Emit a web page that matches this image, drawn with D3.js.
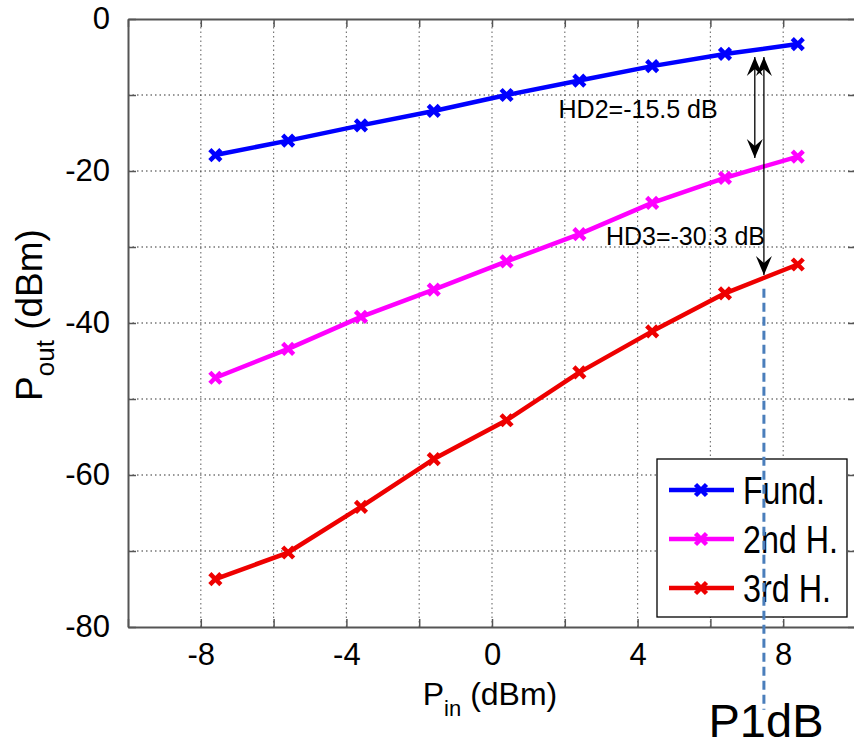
<!DOCTYPE html>
<html lang="en">
<head>
    <meta charset="UTF-8">
    <title>Pout vs Pin</title>
    <script src="https://d3js.org/d3.v7.min.js"></script>
    <style>
        body { margin: 0; background: #fff; }
        svg { display: block; font-family: "Liberation Sans", Arial, sans-serif; }
    </style>
</head>
<body>
    <div id="chart"></div>

    <script>
        // Données
        const pin = [-7.6, -5.6, -3.6, -1.6, 0.4, 2.4, 4.4, 6.4, 8.4];
        const fund = [-17.9, -16.0, -14.0, -12.1, -10.0, -8.1, -6.2, -4.6, -3.3];
        const h2 = [-47.2, -43.4, -39.2, -35.6, -31.9, -28.3, -24.2, -20.9, -18.1];
        const h3 = [-73.7, -70.2, -64.2, -57.9, -52.8, -46.5, -41.1, -36.1, -32.3];

        const seriesNames = ["Fund.", "2nd H.", "3rd H."];
        const seriesColors = ["#0000ff", "#ff00ff", "#ee0000"];

        const xTicks = [-10, -8, -6, -4, -2, 0, 2, 4, 6, 8, 10];
        const xLabels = [-8, -4, 0, 4, 8];
        const yTicks = [-80, -70, -60, -50, -40, -30, -20, -10, 0];
        const yLabels = [-80, -60, -40, -20, 0];

        // Flèches HD2 / HD3 (unités des données)
        const annotations = [
            { x: 7.22, from: -5.0, to: -18.3, label: "HD2=-15.5 dB", lx: 6.2, ly: -13.0 },
            { x: 7.47, from: -5.0, to: -33.7, label: "HD3=-30.3 dB", lx: 7.5, ly: -29.7 }
        ];
        const p1dB = 7.47;

        const W = 854, H = 748;
        const margin = { top: 19, right: -2, bottom: 121, left: 128 };

        const svg = d3.select("#chart").append("svg")
            .attr("width", W)
            .attr("height", H);

        const x = d3.scaleLinear().domain([-10, 10]).range([margin.left, W - margin.right]);
        const y = d3.scaleLinear().domain([-80, 0]).range([H - margin.bottom, margin.top]);

        const defs = svg.append("defs");
        defs.append("marker")
            .attr("id", "head")
            .attr("viewBox", "-20 -10 22 20")
            .attr("refX", 0).attr("refY", 0)
            .attr("markerWidth", 22).attr("markerHeight", 20)
            .attr("markerUnits", "userSpaceOnUse")
            .attr("orient", "auto-start-reverse")
            .append("path")
            .attr("d", "M0,0 L-19,-8 L-12,0 L-19,8 Z")
            .attr("fill", "#000");

        // Grille
        svg.append("g").selectAll("line")
            .data(xTicks.slice(1, -1))
            .join("line")
            .attr("x1", d => x(d)).attr("x2", d => x(d))
            .attr("y1", y(-80)).attr("y2", y(0))
            .attr("stroke", "#777")
            .attr("stroke-width", 1.2)
            .attr("stroke-dasharray", "1.5,3");

        svg.append("g").selectAll("line")
            .data(yTicks.slice(1, -1))
            .join("line")
            .attr("x1", x(-10)).attr("x2", x(10))
            .attr("y1", d => y(d)).attr("y2", d => y(d))
            .attr("stroke", "#333")
            .attr("stroke-width", 1.2)
            .attr("stroke-dasharray", "1.5,3");

        // Axes (cadre + graduations vers l'intérieur)
        const tickLen = 8;
        const axisColor = "#555";

        svg.append("g")
            .attr("transform", `translate(0,${y(-80)})`)
            .call(d3.axisBottom(x).tickValues(xTicks).tickSize(-tickLen).tickSizeOuter(0)
                .tickFormat(d => xLabels.includes(d) ? d : "").tickPadding(16))
            .call(g => g.select(".domain").attr("stroke", axisColor).attr("stroke-width", 2))
            .call(g => g.selectAll(".tick line").attr("stroke", axisColor).attr("stroke-width", 1.5))
            .call(g => g.selectAll(".tick text").attr("font-size", 31).attr("fill", "#000")
                .attr("font-family", "Liberation Sans, Arial, sans-serif"));

        svg.append("g")
            .attr("transform", `translate(0,${y(0)})`)
            .call(d3.axisTop(x).tickValues(xTicks).tickSize(-tickLen).tickSizeOuter(0).tickFormat(""))
            .call(g => g.select(".domain").attr("stroke", axisColor).attr("stroke-width", 2))
            .call(g => g.selectAll(".tick line").attr("stroke", axisColor).attr("stroke-width", 1.5));

        svg.append("g")
            .attr("transform", `translate(${x(-10)},0)`)
            .call(d3.axisLeft(y).tickValues(yTicks).tickSize(-tickLen).tickSizeOuter(0)
                .tickFormat(d => yLabels.includes(d) ? d : "").tickPadding(18))
            .call(g => g.select(".domain").attr("stroke", axisColor).attr("stroke-width", 2))
            .call(g => g.selectAll(".tick line").attr("stroke", axisColor).attr("stroke-width", 1.5))
            .call(g => g.selectAll(".tick text").attr("font-size", 31).attr("fill", "#000")
                .attr("font-family", "Liberation Sans, Arial, sans-serif"));

        svg.append("g")
            .attr("transform", `translate(${x(10)},0)`)
            .call(d3.axisRight(y).tickValues(yTicks).tickSize(-tickLen).tickSizeOuter(0).tickFormat(""))
            .call(g => g.select(".domain").attr("stroke", axisColor).attr("stroke-width", 2))
            .call(g => g.selectAll(".tick line").attr("stroke", axisColor).attr("stroke-width", 1.5));

        // Titres des axes
        const xTitle = svg.append("text")
            .attr("x", 490).attr("y", 705)
            .attr("text-anchor", "middle")
            .attr("font-size", 32);
        xTitle.append("tspan").text("P");
        xTitle.append("tspan").attr("dy", 11).attr("font-size", 22).text("in");
        xTitle.append("tspan").attr("dy", -11).text(" (dBm)");

        const yTitle = svg.append("text")
            .attr("transform", `translate(42,${(y(0) + y(-80)) / 2 - 8}) rotate(-90)`)
            .attr("text-anchor", "middle")
            .attr("font-size", 37);
        yTitle.append("tspan").text("P");
        yTitle.append("tspan").attr("dy", 12).attr("font-size", 26).text("out");
        yTitle.append("tspan").attr("dy", -12).text(" (dBm)");

        // Courbes
        const series = [fund, h2, h3];
        const line = d3.line().x((d, i) => x(pin[i])).y(d => y(d));

        function drawCross(g, cx, cy, color) {
            const s = 5.5;
            g.append("path")
                .attr("d", `M${cx - s},${cy - s}L${cx + s},${cy + s}M${cx - s},${cy + s}L${cx + s},${cy - s}`)
                .attr("stroke", color)
                .attr("stroke-width", 4.5)
                .attr("fill", "none");
        }

        series.forEach((values, k) => {
            const g = svg.append("g");
            g.append("path")
                .datum(values)
                .attr("d", line)
                .attr("fill", "none")
                .attr("stroke", seriesColors[k])
                .attr("stroke-width", 4.5)
                .attr("stroke-linejoin", "round");
            values.forEach((v, i) => drawCross(g, x(pin[i]), y(v), seriesColors[k]));
        });

        // Annotations HD2 / HD3
        annotations.forEach(a => {
            svg.append("line")
                .attr("x1", x(a.x)).attr("x2", x(a.x))
                .attr("y1", y(a.from)).attr("y2", y(a.to))
                .attr("stroke", "#000")
                .attr("stroke-width", 1.3)
                .attr("marker-start", "url(#head)")
                .attr("marker-end", "url(#head)");
            svg.append("text")
                .attr("x", x(a.lx)).attr("y", y(a.ly))
                .attr("text-anchor", "end")
                .attr("font-size", 25)
                .text(a.label);
        });

        // Légende
        const legend = svg.append("g");
        legend.append("rect")
            .attr("x", 657).attr("y", 459)
            .attr("width", 190).attr("height", 158)
            .attr("fill", "#fff")
            .attr("stroke", "#000")
            .attr("stroke-width", 1.3);

        const legendWidths = [82, 95, 88];
        seriesNames.forEach((name, k) => {
            const ly = 490 + k * 49;
            legend.append("line")
                .attr("x1", 669).attr("x2", 734)
                .attr("y1", ly).attr("y2", ly)
                .attr("stroke", seriesColors[k])
                .attr("stroke-width", 4.5);
            drawCross(legend, 701, ly, seriesColors[k]);
            legend.append("text")
                .attr("x", 743).attr("y", ly + 14)
                .attr("font-size", 38)
                .attr("textLength", legendWidths[k])
                .attr("lengthAdjust", "spacingAndGlyphs")
                .text(name);
        });

        // Ligne P1dB
        svg.append("line")
            .attr("x1", x(p1dB)).attr("x2", x(p1dB))
            .attr("y1", y(-35.5)).attr("y2", y(-90.9))
            .attr("stroke", "#4a7ebb")
            .attr("stroke-width", 3)
            .attr("stroke-dasharray", "9,5");

        svg.append("text")
            .attr("x", 766).attr("y", 737)
            .attr("text-anchor", "middle")
            .attr("font-size", 47)
            .text("P1dB");
    </script>
</body>
</html>
